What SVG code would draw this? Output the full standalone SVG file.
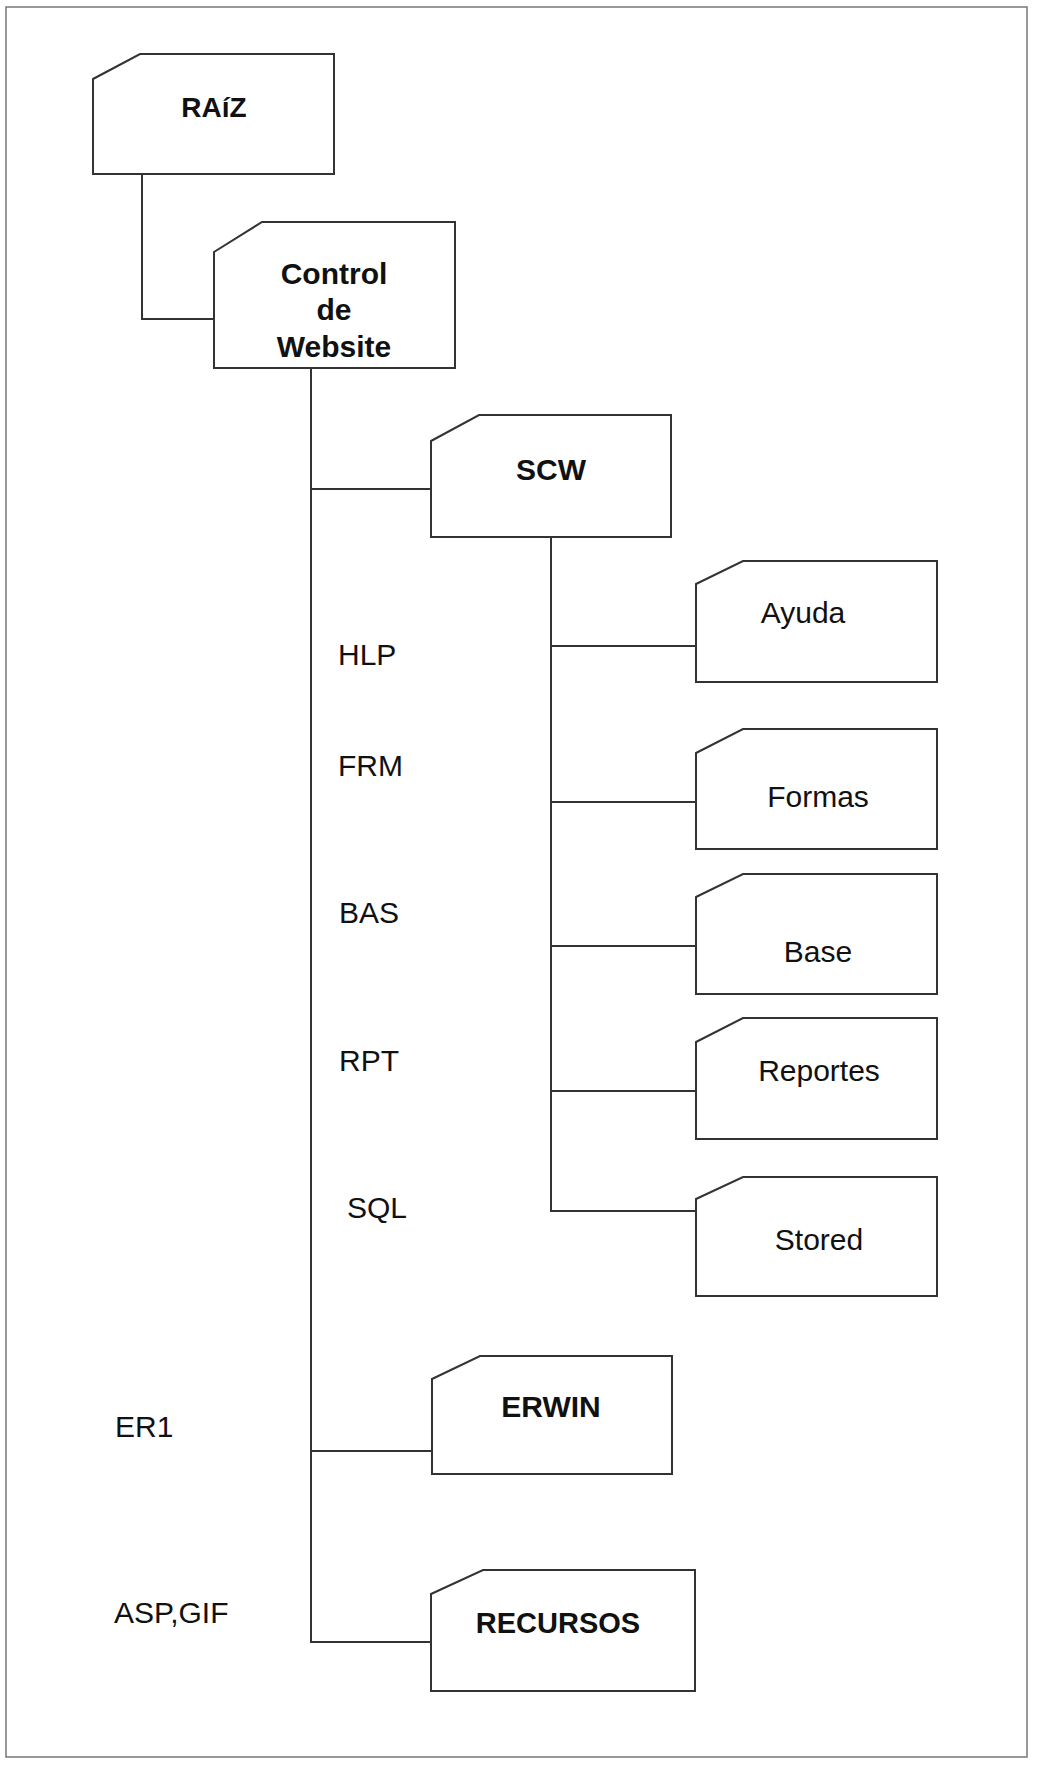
<svg xmlns="http://www.w3.org/2000/svg" width="1042" height="1771" viewBox="0 0 1042 1771">
<style>
.node{fill:#fff;stroke:#333;stroke-width:2;stroke-linejoin:miter}
.conn{fill:none;stroke:#333;stroke-width:2}
.b{font-family:"Liberation Sans",Arial,sans-serif;font-weight:bold;font-size:30px;fill:#111;text-anchor:middle}
.r{font-family:"Liberation Sans",Arial,sans-serif;font-size:30px;fill:#111;text-anchor:middle}
.lbl{font-family:"Liberation Sans",Arial,sans-serif;font-size:30px;fill:#111}
</style>
<rect x="0" y="0" width="1042" height="1771" fill="#fff"/>
<rect x="6" y="7" width="1021" height="1750" fill="none" stroke="#777" stroke-width="1.5"/>
<g id="connectors">
<path class="conn" d="M142,174 V319 H214"/>
<path class="conn" d="M311,368 V1642 H431"/>
<path class="conn" d="M311,489 H431"/>
<path class="conn" d="M311,1451 H432"/>
<path class="conn" d="M551,537 V1211 H696"/>
<path class="conn" d="M551,646 H696"/>
<path class="conn" d="M551,802 H696"/>
<path class="conn" d="M551,946 H696"/>
<path class="conn" d="M551,1091 H696"/>
</g>
<g id="raiz"><path class="node" d="M93,79 L140,54 H334 V174 H93 Z"/><text class="b" x="214" y="117" style="font-size:28px">RAíZ</text></g>
<g id="control"><path class="node" d="M214,252 L262,222 H455 V368 H214 Z"/><text class="b" x="334" y="284">Control</text><text class="b" x="334" y="320">de</text><text class="b" x="334" y="357">Website</text></g>
<g id="scw"><path class="node" d="M431,441 L479,415 H671 V537 H431 Z"/><text class="b" x="551" y="480">SCW</text></g>
<g id="ayuda"><path class="node" d="M696,584 L743,561 H937 V682 H696 Z"/><text class="r" x="803" y="623">Ayuda</text></g>
<g id="formas"><path class="node" d="M696,753 L743,729 H937 V849 H696 Z"/><text class="r" x="818" y="807">Formas</text></g>
<g id="base"><path class="node" d="M696,897 L743,874 H937 V994 H696 Z"/><text class="r" x="818" y="962">Base</text></g>
<g id="reportes"><path class="node" d="M696,1042 L743,1018 H937 V1139 H696 Z"/><text class="r" x="819" y="1081">Reportes</text></g>
<g id="stored"><path class="node" d="M696,1199 L743,1177 H937 V1296 H696 Z"/><text class="r" x="819" y="1250">Stored</text></g>
<g id="erwin"><path class="node" d="M432,1379 L480,1356 H672 V1474 H432 Z"/><text class="b" x="551" y="1417">ERWIN</text></g>
<g id="recursos"><path class="node" d="M431,1594 L483,1570 H695 V1691 H431 Z"/><text class="b" x="558" y="1633" style="font-size:29px">RECURSOS</text></g>
<g id="labels">
<text class="lbl" x="338" y="665">HLP</text>
<text class="lbl" x="338" y="776">FRM</text>
<text class="lbl" x="339" y="923">BAS</text>
<text class="lbl" x="339" y="1071">RPT</text>
<text class="lbl" x="347" y="1218">SQL</text>
<text class="lbl" x="115" y="1437">ER1</text>
<text class="lbl" x="114" y="1623">ASP,GIF</text>
</g>
</svg>
